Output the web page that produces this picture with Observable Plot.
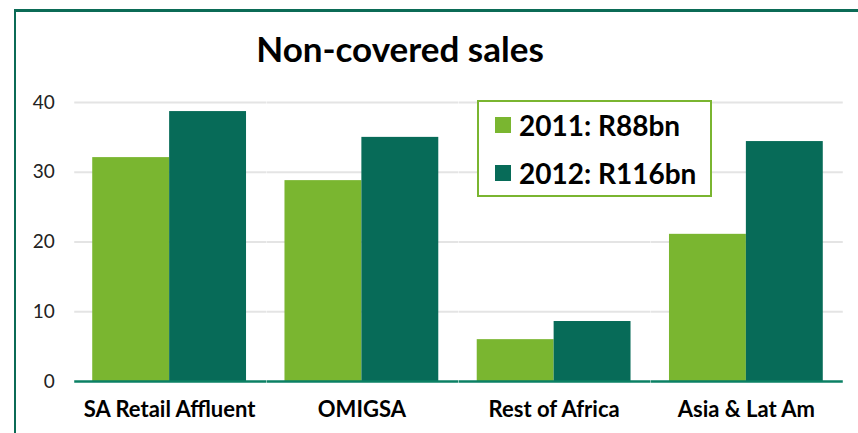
<!DOCTYPE html>
<html><head><meta charset="utf-8">
<script src="https://cdn.jsdelivr.net/npm/d3@7"></script>
<script src="https://cdn.jsdelivr.net/npm/@observablehq/plot@0.6"></script>
<style>
body{margin:0;background:#fff;}
#wrap{position:relative;width:858px;height:433px;overflow:hidden;font-family:Lato,"DejaVu Sans",sans-serif;background:#fff;}
#frame{position:absolute;left:14px;top:9px;width:900px;height:500px;border-left:2px solid #0b6b56;border-top:3px solid #0b6b56;}
#chart{position:absolute;left:0;top:0;}
#title{position:absolute;left:0;width:800px;top:27px;text-align:center;font-weight:bold;font-size:35px;color:#000;}
#legend{position:absolute;left:477px;top:100px;width:235px;height:97px;box-sizing:border-box;border:2px solid #7ab530;background:#fff;}
.row{position:absolute;left:16px;height:30px;display:flex;align-items:center;font-weight:bold;font-size:28px;color:#000;white-space:nowrap;}
.sw{width:16px;height:16px;margin-right:8px;}
</style></head>
<body>
<div id="wrap"><div id="frame"></div><div id="chart"></div><div id="title">Non-covered sales</div><div id="legend"></div></div>
<script>
const categories = ["SA Retail Affluent", "OMIGSA", "Rest of Africa", "Asia & Lat Am"];
const years = ["2011", "2012"];
const values2011 = [32.1, 28.8, 6.0, 21.1];
const values2012 = [38.7, 35.0, 8.6, 34.4];
const legendLabels = ["2011: R88bn", "2012: R116bn"];
const colors = ["#7ab630", "#076b58"];
const yTicks = [0, 10, 20, 30, 40];

const data = [];
categories.forEach((c, i) => {
  data.push({category: c, year: years[0], value: values2011[i]});
  data.push({category: c, year: years[1], value: values2012[i]});
});

const chart = Plot.plot({
  width: 858, height: 433,
  marginLeft: 73, marginRight: 16, marginTop: 102, marginBottom: 52,
  style: {fontFamily: "Lato, 'DejaVu Sans', sans-serif", background: "transparent"},
  fx: {domain: categories, paddingInner: 0.2, paddingOuter: 0.1, round: false, label: null},
  x: {domain: years, padding: 0, round: false, axis: null},
  y: {domain: [0, 40]},
  color: {domain: years, range: colors},
  marks: [
    Plot.ruleY(yTicks.filter(d => d > 0), {stroke: "#e4e4e4", strokeWidth: 2, insetLeft: -18, insetRight: -20}),
    Plot.barY(data, {fx: "category", x: "year", y: "value", fill: "year"}),
    Plot.ruleY([0], {stroke: "#0b8064", strokeWidth: 2.5, insetLeft: -18, insetRight: -20}),
    Plot.axisY({ticks: yTicks, tickSize: 0, tickPadding: 38, label: null, fontSize: 19, fill: "#222"}),
    Plot.axisFx({anchor: "bottom", tickSize: 0, tickPadding: 20, label: null, fontSize: 22, fontWeight: "bold", fill: "#000"})
  ]
});
document.getElementById("chart").appendChild(chart);

const legend = document.getElementById("legend");
legendLabels.forEach((t, i) => {
  const row = document.createElement("div");
  row.className = "row";
  row.style.top = (8 + i * 47.5) + "px";
  const sw = document.createElement("div");
  sw.className = "sw";
  sw.style.background = colors[i];
  row.appendChild(sw);
  row.appendChild(document.createTextNode(t));
  legend.appendChild(row);
});
</script>
</body></html>
